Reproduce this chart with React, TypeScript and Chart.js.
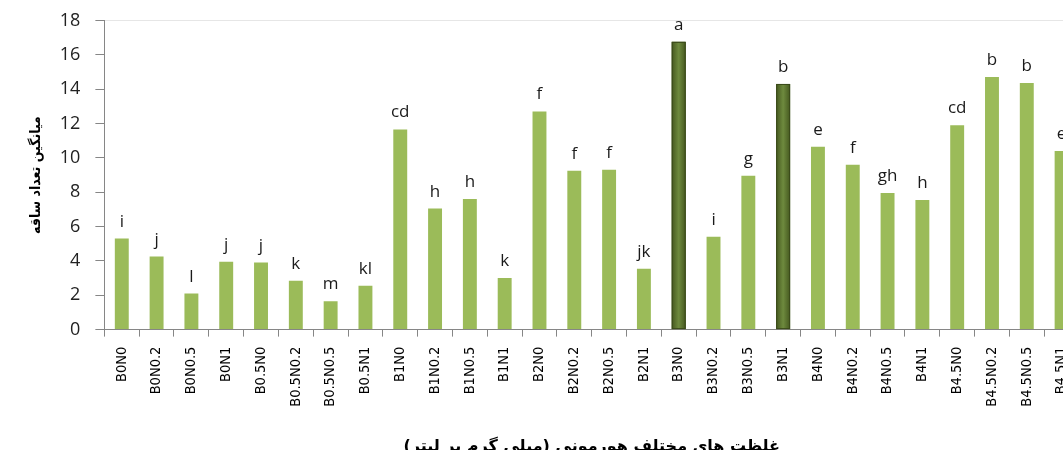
import React, { useEffect, useRef } from "react";
import { Chart, registerables } from "chart.js";

Chart.register(...registerables);

const categories = [
  "B0N0", "B0N0.2", "B0N0.5", "B0N1",
  "B0.5N0", "B0.5N0.2", "B0.5N0.5", "B0.5N1",
  "B1N0", "B1N0.2", "B1N0.5", "B1N1",
  "B2N0", "B2N0.2", "B2N0.5", "B2N1",
  "B3N0", "B3N0.2", "B3N0.5", "B3N1",
  "B4N0", "B4N0.2", "B4N0.5", "B4N1",
  "B4.5N0", "B4.5N0.2", "B4.5N0.5", "B4.5N1",
];

const stemMeans = [
  5.3, 4.25, 2.1, 3.95,
  3.9, 2.85, 1.65, 2.55,
  11.65, 7.05, 7.6, 3.0,
  12.7, 9.25, 9.3, 3.55,
  16.75, 5.4, 8.95, 14.3,
  10.65, 9.6, 7.95, 7.55,
  11.9, 14.7, 14.35, 10.4,
];

const groupLetters = [
  "i", "j", "l", "j",
  "j", "k", "m", "kl",
  "cd", "h", "h", "k",
  "f", "f", "f", "jk",
  "a", "i", "g", "b",
  "e", "f", "gh", "h",
  "cd", "b", "b", "e",
];

const highlighted = ["B3N0", "B3N1"];

const yTitle = "میانگین تعداد ساقه";
const xTitle = "غلظت های مختلف هورمونی (میلی گرم بر لیتر)";

const LIGHT = "#9BBB59";
const DARK = "#566C2C";
const AXIS = "#868686";

const letterPlugin = {
  id: "letters",
  afterDatasetsDraw(chart: any) {
    const meta = chart.getDatasetMeta(0);
    const ctx = chart.ctx;
    ctx.save();
    meta.data.forEach((el: any, i: number) => {
      const { x, y, base, width } = el.getProps(["x", "y", "base", "width"], true);
      if (highlighted.includes(categories[i])) {
        const left = x - width / 2;
        const g = ctx.createLinearGradient(left, 0, left + width, 0);
        g.addColorStop(0, "#45581F");
        g.addColorStop(0.5, "#6E8A3E");
        g.addColorStop(1, "#45581F");
        ctx.fillStyle = g;
        ctx.fillRect(left, y, width, base - y);
        ctx.strokeStyle = "#3A4A1A";
        ctx.lineWidth = 1;
        ctx.strokeRect(left + 0.5, y + 0.5, width - 1, base - y - 1);
      }
      ctx.fillStyle = "#1a1a1a";
      ctx.font = "17px 'Open Sans'";
      ctx.textAlign = "center";
      ctx.textBaseline = "alphabetic";
      ctx.fillText(groupLetters[i], x, y - 12);
    });
    ctx.restore();
  },
};

export default function App() {
  const ref = useRef<HTMLCanvasElement | null>(null);
  useEffect(() => {
    if (!ref.current) return;
    const chart = new Chart(ref.current, {
      type: "bar",
      data: {
        labels: categories,
        datasets: [
          {
            data: stemMeans,
            backgroundColor: categories.map((c) => (highlighted.includes(c) ? DARK : LIGHT)),
            barPercentage: 0.4,
            categoryPercentage: 1,
          },
        ],
      },
      plugins: [letterPlugin],
      options: {
        animation: false,
        responsive: false,
        layout: { padding: { top: 1, left: 28, right: 0, bottom: 0 } },
        plugins: { legend: { display: false }, tooltip: { enabled: false } },
        scales: {
          x: {
            grid: {
              offset: true,
              drawOnChartArea: false,
              tickColor: AXIS,
              tickLength: 7,
            },
            border: { color: AXIS },
            ticks: {
              minRotation: 90,
              maxRotation: 90,
              autoSkip: false,
              padding: 10,
              color: "#000",
              font: { family: "'DejaVu Sans Condensed', 'Liberation Sans', sans-serif", size: 14.5 },
            },
            title: {
              display: true,
              text: xTitle,
              color: "#000",
              padding: { top: 20 },
              font: { family: "'DejaVu Sans'", size: 16, weight: "bold" },
            },
          },
          y: {
            min: 0,
            max: 18,
            grid: {
              color: (c: any) => (c.tick && c.tick.value === 18 ? "#e6e6e6" : "rgba(0,0,0,0)"),
              tickColor: AXIS,
              tickLength: 9,
            },
            border: { color: AXIS },
            ticks: {
              stepSize: 2,
              padding: 15,
              color: "#222",
              font: { family: "'Open Sans'", size: 18, lineHeight: 0.6 },
            },
            title: {
              display: true,
              text: yTitle,
              color: "#000",
              padding: { top: 0, bottom: 0 },
              font: { family: "'DejaVu Sans Condensed', 'DejaVu Sans'", size: 14, weight: "bold" },
            },
          },
        },
      },
    });
    return () => chart.destroy();
  }, []);
  return (
    <div
      style={{
        position: "fixed",
        left: 0,
        top: 0,
        width: 1063,
        height: 450,
        overflow: "hidden",
        background: "#fff",
      }}
    >
      <canvas ref={ref} width={1089} height={460} style={{ display: "block" }} />
    </div>
  );
}
